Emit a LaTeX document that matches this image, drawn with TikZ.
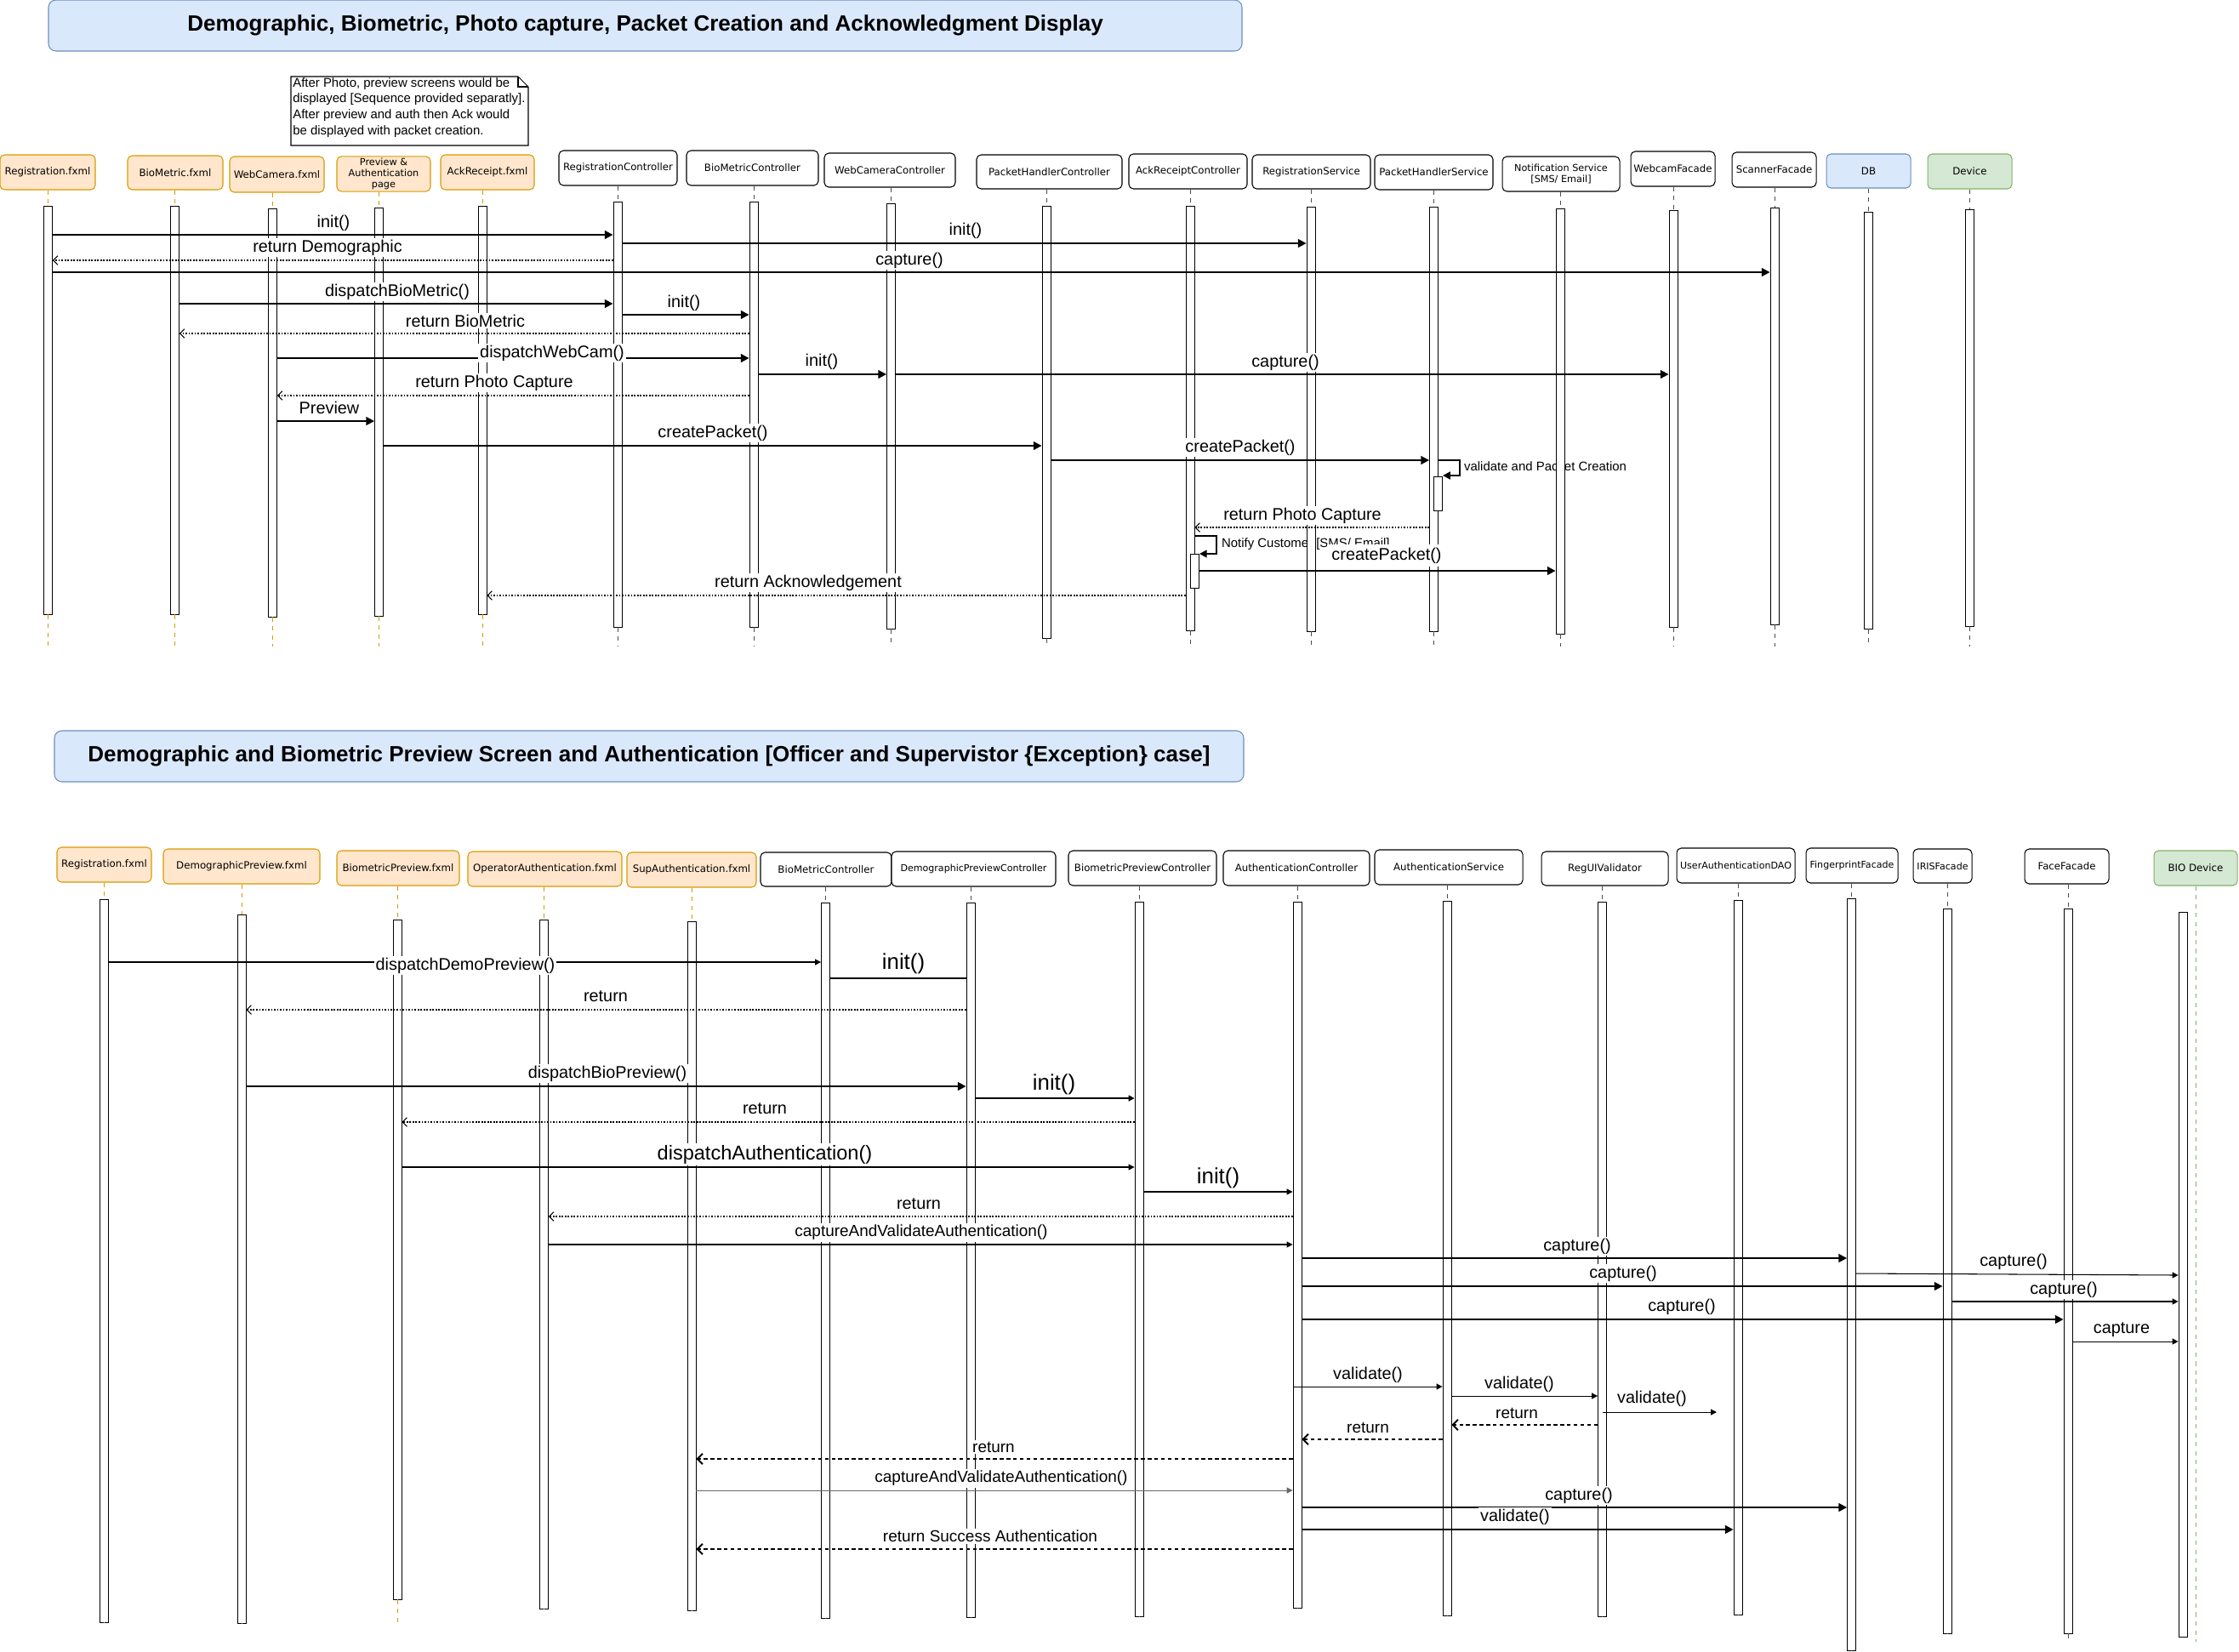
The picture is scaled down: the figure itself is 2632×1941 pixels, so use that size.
\documentclass[tikz,border=0pt]{standalone}
\usepackage{fontspec}
\setmainfont{Liberation Sans}
\newfontfamily\dvs{DejaVu Sans}
\usetikzlibrary{arrows.meta}
\definecolor{orfill}{HTML}{FFE6CC}
\definecolor{orline}{HTML}{D79B00}
\definecolor{blfill}{HTML}{DAE8FC}
\definecolor{blline}{HTML}{6C8EBF}
\definecolor{grfill}{HTML}{D5E8D4}
\definecolor{grline}{HTML}{82B366}

\newcommand\fhdr{\dvs\fontsize{6.7}{8}\selectfont}
\newcommand\fhdrs{\dvs\fontsize{6.3}{7.5}\selectfont}
\newcommand\fsmhdr{\dvs\fontsize{6.4}{7.6}\selectfont}
\newcommand\fmsg{\fontsize{11.3}{13}\selectfont}
\newcommand\fbig{\fontsize{14.7}{17}\selectfont}
\newcommand\fmid{\fontsize{13.4}{15}\selectfont}
\newcommand\fsml{\fontsize{10.8}{12.5}\selectfont}
\newcommand\fself{\fontsize{8.5}{10}\selectfont}
\newcommand\fnote{\fontsize{8.5}{10.6}\selectfont}
\newcommand\ftitle{\bfseries\fontsize{14.8}{17}\selectfont}

\tikzset{
 hd/.style={draw=black, fill=white, rounded corners=3pt, line width=0.6pt, inner sep=1pt, font=\fhdr, align=center},
 hdor/.style={hd, draw=orline, fill=orfill},
 hdbl/.style={hd, draw=blline, fill=blfill},
 hdgr/.style={hd, draw=grline, fill=grfill},
 life/.style={draw=black!70, dash pattern=on 3pt off 3pt, line width=0.5pt},
 lifeor/.style={life, draw=orline},
 actbar/.style={draw=black, fill=white, minimum width=10*0.02cm, inner sep=0pt, line width=0.5pt},
 sync/.style={draw=black, line width=1.1pt, -{Triangle[length=5.5pt,width=5.5pt]}},
 selfm/.style={draw=black, line width=1.1pt, -{Triangle[length=5pt,width=5pt]}},
 tmsg/.style={draw=black, line width=0.6pt, -{Triangle[length=4pt,width=4pt]}},
 plainm/.style={draw=black, line width=0.6pt},
 ret/.style={draw=black, line width=0.6pt, dash pattern=on 1pt off 1pt, -{Straight Barb[length=3pt,width=6pt]}},
 retb/.style={draw=black, line width=1.1pt, dash pattern=on 2.5pt off 2pt, -{Straight Barb[length=3.5pt,width=7pt]}},
 lbl/.style={fill=white, inner sep=1pt, font=\fmsg},
 ttl/.style={draw=blline, fill=blfill, rounded corners=5pt, line width=0.6pt, font=\ftitle},
}

\newcommand\mkhead[7]{\node[#6, minimum width={(#3-#2)*0.02cm}, minimum height={(#5-#4)*0.02cm}] (#1) at ({(#2+#3)/2},{(#4+#5)/2}) {#7};}
\newcommand\mkbar[6]{%
 \node[actbar, minimum height={(#4-#3)*0.02cm}] (#1b) at (#2,{(#3+#4)/2}) {};
 \draw[#6] (#1.south -| #1b.north) -- (#1b.north);
 \draw[#6] (#1b.south) -- (#1b.south |- 0,#5);
}

\begin{document}
\begin{tikzpicture}[x=0.02cm, y=-0.02cm]
\useasboundingbox (0,0) rectangle (2632,1941);

% ---------- titles ----------
\node[ttl, minimum width=1403*0.02cm, minimum height=60*0.02cm] (t1) at (758.5,30) {Demographic, Biometric, Photo capture, Packet Creation and Acknowledgment Display};
\node[ttl, minimum width=1398*0.02cm, minimum height=60*0.02cm] (t2) at (763,889) {Demographic and Biometric Preview Screen and Authentication [Officer and Supervistor \{Exception\} case]};

% ---------- note ----------
\draw[line width=0.6pt, fill=white] (342,90) -- (609,90) -- (621,102) -- (621,171) -- (342,171) -- cycle;
\draw[line width=0.6pt] (609,90) -- (609,102) -- (621,102);
\node[anchor=north west, align=left, inner sep=0pt, font=\fnote] (note) at (344,91) {After Photo, preview screens would be\\displayed [Sequence provided separatly].\\After preview and auth then Ack would\\be displayed with packet creation.};

% ---------- top headers ----------
\mkhead{T1}{0}{112}{182}{223}{hdor}{Registration.fxml}
\mkhead{T2}{150}{262}{183}{223}{hdor}{BioMetric.fxml}
\mkhead{T3}{270}{381}{184}{226}{hdor}{WebCamera.fxml}
\mkhead{T4}{396}{506}{184}{225}{hdor,font=\fsmhdr}{Preview \&\\Authentication\\page}
\mkhead{T5}{518}{628}{182}{223}{hdor}{AckReceipt.fxml}
\mkhead{T6}{657}{796}{177}{218}{hd}{RegistrationController}
\mkhead{T7}{807}{962}{177}{218}{hd}{BioMetricController}
\mkhead{T8}{969}{1123}{180}{220}{hd}{WebCameraController}
\mkhead{T9}{1148}{1319}{182}{222}{hd}{PacketHandlerController}
\mkhead{T10}{1327}{1466}{181}{222}{hd}{AckReceiptController}
\mkhead{T11}{1472}{1611}{182}{222}{hd}{RegistrationService}
\mkhead{T12}{1616}{1755}{182}{223}{hd}{PacketHandlerService}
\mkhead{T13}{1766}{1904}{184}{225}{hd,font=\fsmhdr}{Notification Service\\{}[SMS/ Email]}
\mkhead{T14}{1917}{2016}{178}{219}{hd}{WebcamFacade}
\mkhead{T15}{2036}{2135}{179}{220}{hd}{ScannerFacade}
\mkhead{T16}{2147}{2246}{181}{221}{hdbl}{DB}
\mkhead{T17}{2266}{2365}{181}{222}{hdgr}{Device}

% self-message labels partly hidden by bars (drawn first)
\node[anchor=west, inner sep=1pt, fill=white, font=\fself] (lnotify) at (1434,640) {Notify Customer [SMS/ Email]};
\node[anchor=west, inner sep=1pt, font=\fself] (m15) at (1719,548) {validate and Packet Creation};

\mkbar{T1}{56.5}{242}{722}{760}{lifeor}
\mkbar{T2}{205.5}{242}{722}{760}{lifeor}
\mkbar{T3}{320.5}{245}{725}{760}{lifeor}
\mkbar{T4}{445.5}{244}{724}{760}{lifeor}
\mkbar{T5}{567}{242}{722}{760}{lifeor}
\mkbar{T6}{726}{237}{737}{760}{life}
\mkbar{T7}{886}{237}{737}{760}{life}
\mkbar{T8}{1047.5}{239}{739}{760}{life}
\mkbar{T9}{1230}{242}{750}{760}{life}
\mkbar{T10}{1399}{242}{741}{760}{life}
\mkbar{T11}{1541}{243}{742}{760}{life}
\mkbar{T12}{1685.5}{243}{742}{760}{life}
\mkbar{T13}{1834}{245}{745}{760}{life}
\mkbar{T14}{1967}{247}{737}{760}{life}
\mkbar{T15}{2086}{244}{734}{760}{life}
\mkbar{T16}{2196}{249}{739}{760}{life}
\mkbar{T17}{2315}{246}{736}{760}{life}
\node[actbar, minimum height=40*0.02cm] (T12a) at (1690.5,580) {};
\node[actbar, minimum height=40*0.02cm] (T10a) at (1404.5,671) {};

% ---------- top messages ----------
\draw[sync] (T1b.east |- 0,276) -- (T6b.west |- 0,276);
\draw[sync] (T6b.east |- 0,286) -- (T11b.west |- 0,286);
\draw[ret] (T6b.west |- 0,306) -- (T1b.east |- 0,306);
\draw[sync] (T1b.east |- 0,320) -- (T15b.west |- 0,320);
\draw[sync] (T2b.east |- 0,357) -- (T6b.west |- 0,357);
\draw[sync] (T6b.east |- 0,370) -- (T7b.west |- 0,370);
\draw[ret] (T7b.west |- 0,392) -- (T2b.east |- 0,392);
\draw[sync] (T3b.east |- 0,421) -- (T7b.west |- 0,421);
\draw[sync] (T7b.east |- 0,440) -- (T8b.west |- 0,440);
\draw[sync] (T8b.east |- 0,440) -- (T14b.west |- 0,440);
\draw[ret] (T7b.west |- 0,465) -- (T3b.east |- 0,465);
\draw[sync] (T3b.east |- 0,495) -- (T4b.west |- 0,495);
\draw[sync] (T4b.east |- 0,524) -- (T9b.west |- 0,524);
\draw[sync] (T9b.east |- 0,541) -- (T12b.west |- 0,541);
\draw[selfm] (T12b.east |- 0,541) -- (1716,541) -- (1716,559) -- (T12a.east |- 0,559);
\draw[ret] (T12b.west |- 0,620) -- (T10b.east |- 0,620);
\draw[selfm] (T10b.east |- 0,630) -- (1430,630) -- (1430,651) -- (T10a.east |- 0,651);
\draw[sync] (T10a.east |- 0,671) -- (T13b.west |- 0,671);
\draw[ret] (T10b.west |- 0,700) -- (T5b.east |- 0,700);

\node[lbl] (m1) at (392,262) {init()};
\node[lbl] (m2) at (1135,271) {init()};
\node[lbl] (m3) at (385,291) {return Demographic};
\node[lbl] (m4) at (1069,306) {capture()};
\node[lbl] (m5) at (467,343) {dispatchBioMetric()};
\node[lbl] (m6) at (804,356) {init()};
\node[lbl] (m7) at (547,377) {return BioMetric};
\node[lbl] (m8) at (649,415) {dispatchWebCam()};
\node[lbl] (m9) at (966,425) {init()};
\node[lbl] (m10) at (1511,426) {capture()};
\node[lbl] (m11) at (581,450) {return Photo Capture};
\node[lbl] (m12) at (387,479) {Preview};
\node[lbl] (m13) at (838,509) {createPacket()};
\node[lbl] (m14) at (1458,526) {createPacket()};
\node[lbl] (m16) at (1531,606) {return Photo Capture};
\node[lbl, inner xsep=3pt, inner ysep=2pt] (m18) at (1630,653) {createPacket()};
\node[lbl] (m19) at (950,685) {return Acknowledgement};

% ---------- bottom headers ----------
\mkhead{B1}{67}{178}{996}{1037}{hdor}{Registration.fxml}
\mkhead{B2}{192}{376}{998}{1039}{hdor}{DemographicPreview.fxml}
\mkhead{B3}{396}{540}{1000}{1041}{hdor}{BiometricPreview.fxml}
\mkhead{B4}{550}{731}{1001}{1042}{hdor}{OperatorAuthentication.fxml}
\mkhead{B5}{737}{889}{1002}{1043}{hdor}{SupAuthentication.fxml}
\mkhead{B6}{894}{1048}{1002}{1042}{hd}{BioMetricController}
\mkhead{B7}{1048}{1241}{1001}{1042}{hd,font=\fhdrs}{DemographicPreviewController}
\mkhead{B8}{1256}{1430}{1000}{1041}{hd}{BiometricPreviewController}
\mkhead{B9}{1438}{1610}{1000}{1041}{hd}{AuthenticationController}
\mkhead{B10}{1616}{1790}{999}{1040}{hd}{AuthenticationService}
\mkhead{B11}{1812}{1961}{1001}{1041}{hd}{RegUIValidator}
\mkhead{B12}{1971}{2110}{997}{1038}{hd,font=\fhdrs}{UserAuthenticationDAO}
\mkhead{B13}{2123}{2231}{997}{1038}{hd,font=\fhdrs}{FingerprintFacade}
\mkhead{B14}{2249}{2318}{998}{1038}{hd,font=\fhdrs}{IRISFacade}
\mkhead{B15}{2380}{2479}{998}{1039}{hd}{FaceFacade}
\mkhead{B16}{2532}{2630}{1000}{1041}{hdgr}{BIO Device}

\mkbar{B1}{122}{1057}{1907}{1907}{lifeor}
\mkbar{B2}{284}{1075}{1908}{1908}{lifeor}
\mkbar{B3}{467}{1081}{1880}{1907}{lifeor}
\mkbar{B4}{639.5}{1081}{1891}{1891}{lifeor}
\mkbar{B5}{813}{1083}{1893}{1893}{lifeor}
\mkbar{B6}{970.5}{1061}{1902}{1902}{life}
\mkbar{B7}{1141}{1061}{1901}{1901}{life}
\mkbar{B8}{1339}{1060}{1900}{1900}{life}
\mkbar{B9}{1525}{1060}{1890}{1890}{life}
\mkbar{B10}{1701}{1059}{1899}{1899}{life}
\mkbar{B11}{1883.5}{1060}{1900}{1900}{life}
\mkbar{B12}{2043}{1058}{1898}{1898}{life}
\mkbar{B13}{2176.5}{1056}{1940}{1940}{life}
\mkbar{B14}{2289}{1068}{1920}{1920}{life}
\mkbar{B15}{2431}{1068}{1920}{1930}{life}
\node[actbar, minimum height={(1924-1072)*0.02cm}] (B16b) at (2566,1498) {};
\draw[life, draw=grline] (B16.south) -- (B16.south |- 0,1930);
\coordinate (vend) at (2018,1660);

% ---------- bottom messages ----------
\draw[tmsg] (B1b.east |- 0,1131) -- (B6b.west |- 0,1131);
\draw[plainm] (B6b.east |- 0,1150) -- (B7b.west |- 0,1150);
\draw[ret] (B7b.west |- 0,1187) -- (B2b.east |- 0,1187);
\draw[sync] (B2b.east |- 0,1277) -- (B7b.west |- 0,1277);
\draw[tmsg, line width=0.9pt] (B7b.east |- 0,1291) -- (B8b.west |- 0,1291);
\draw[ret] (B8b.west |- 0,1319) -- (B3b.east |- 0,1319);
\draw[tmsg] (B3b.east |- 0,1372) -- (B8b.west |- 0,1372);
\draw[tmsg] (B8b.east |- 0,1401) -- (B9b.west |- 0,1401);
\draw[ret] (B9b.west |- 0,1430) -- (B4b.east |- 0,1430);
\draw[tmsg] (B4b.east |- 0,1463) -- (B9b.west |- 0,1463);
\draw[sync] (B9b.east |- 0,1479) -- (B13b.west |- 0,1479);
\draw[tmsg] (B13b.east |- 0,1497) -- (B16b.west |- 0,1499);
\draw[sync] (B9b.east |- 0,1512) -- (B14b.west |- 0,1512);
\draw[tmsg] (B14b.east |- 0,1530) -- (B16b.west |- 0,1530);
\draw[sync] (B9b.east |- 0,1551) -- (B15b.west |- 0,1551);
\draw[tmsg] (B15b.east |- 0,1577) -- (B16b.west |- 0,1577);
\draw[tmsg] (B9b.west |- 0,1630) -- (B10b.west |- 0,1630);
\draw[tmsg] (B10b.east |- 0,1641) -- (B11b.west |- 0,1641);
\draw[tmsg] (B11b.center |- 0,1660) -- (vend);
\draw[retb] (B11b.west |- 0,1675) -- (B10b.east |- 0,1675);
\draw[retb] (B10b.west |- 0,1692) -- (B9b.east |- 0,1692);
\draw[retb] (B9b.west |- 0,1715) -- (B5b.east |- 0,1715);
\draw[tmsg, draw=black!60] (B5b.east |- 0,1752) -- (B9b.west |- 0,1752);
\draw[sync] (B9b.east |- 0,1772) -- (B13b.west |- 0,1772);
\draw[sync] (B9b.east |- 0,1798) -- (B12b.west |- 0,1798);
\draw[retb] (B9b.west |- 0,1821) -- (B5b.east |- 0,1821);

\node[lbl] (n1) at (547,1135) {dispatchDemoPreview()};
\node[lbl, font=\fbig] (n2) at (1062,1133) {init()};
\node[lbl] (n3) at (712,1171) {return};
\node[lbl] (n4) at (714,1262) {dispatchBioPreview()};
\node[lbl, font=\fbig] (n5) at (1239,1275) {init()};
\node[lbl] (n6) at (899,1303) {return};
\node[lbl, font=\fmid] (n7) at (899,1357) {dispatchAuthentication()};
\node[lbl, font=\fbig] (n8) at (1432,1385) {init()};
\node[lbl] (n9) at (1080,1415) {return};
\node[lbl, font=\fsml] (n10) at (1083,1449) {captureAndValidateAuthentication()};
\node[lbl] (n11) at (1854,1465) {capture()};
\node[lbl] (n12) at (2367,1483) {capture()};
\node[lbl] (n13) at (1908,1497) {capture()};
\node[lbl] (n14) at (2426,1516) {capture()};
\node[lbl] (n15) at (1977,1536) {capture()};
\node[lbl] (n16) at (2494,1563) {capture};
\node[lbl] (n17) at (1608,1616) {validate()};
\node[lbl] (n18) at (1786,1627) {validate()};
\node[lbl] (n19) at (1942,1644) {validate()};
\node[lbl, font=\fsml] (n20) at (1783,1661) {return};
\node[lbl, font=\fsml] (n21) at (1608,1678) {return};
\node[lbl, font=\fsml] (n22) at (1168,1701) {return};
\node[lbl, font=\fsml] (n23) at (1177,1738) {captureAndValidateAuthentication()};
\node[lbl] (n24) at (1856,1758) {capture()};
\node[lbl] (n25) at (1781,1783) {validate()};
\node[lbl, font=\fsml] (n26) at (1164,1806) {return Success Authentication};
\end{tikzpicture}
\end{document}
